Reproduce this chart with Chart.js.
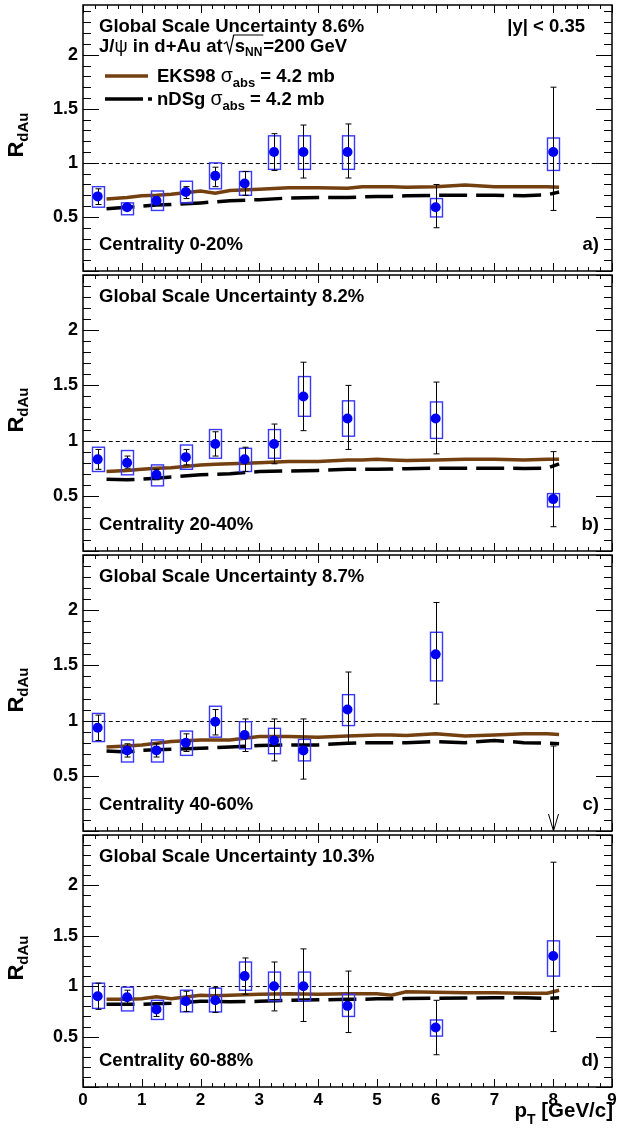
<!DOCTYPE html>
<html>
<head>
<meta charset="utf-8">
<script src="https://cdn.jsdelivr.net/npm/chart.js@4.4.1/dist/chart.umd.min.js"></script>
<style>
  html, body { margin: 0; padding: 0; background: #fff; }
  #wrap { position: relative; width: 617px; height: 1131px; overflow: hidden; }
  canvas { position: absolute; left: 0; }
</style>
</head>
<body>
<div id="wrap">
  <canvas id="pa" width="617" height="276" style="top:0px"></canvas>
  <canvas id="pb" width="617" height="286" style="top:270px"></canvas>
  <canvas id="pc" width="617" height="286" style="top:550px"></canvas>
  <canvas id="pd" width="617" height="301" style="top:830px"></canvas>
</div>
<script>
// pT bin centres of the J/psi points
const pT = [0.25, 0.75, 1.25, 1.75, 2.25, 2.75, 3.25, 3.75, 4.5, 6, 8];
// x grid of the model curves
const thX = [0.4, 0.75, 1.0, 1.25, 1.5, 2.0, 2.25, 2.5, 3.0, 3.5, 4.0, 4.5, 4.75, 5.0, 5.25, 5.5, 6.0, 6.5, 7.0, 7.5, 7.9, 8.1];

// Centrality 0-20%
const rA      = [0.69, 0.59, 0.65, 0.73, 0.88, 0.81, 1.10, 1.10, 1.10, 0.59, 1.10];
const statLoA = [0.615, 0.575, 0.62, 0.67, 0.78, 0.70, 0.93, 0.86, 0.86, 0.40, 0.56];
const statHiA = [0.76, 0.605, 0.68, 0.78, 0.96, 0.92, 1.27, 1.35, 1.36, 0.80, 1.70];
const sysLoA  = [0.59, 0.52, 0.56, 0.63, 0.76, 0.70, 0.94, 0.94, 0.94, 0.50, 0.93];
const sysHiA  = [0.78, 0.63, 0.74, 0.83, 1.00, 0.92, 1.25, 1.25, 1.25, 0.67, 1.23];
const eksA  = [0.665, 0.68, 0.695, 0.70, 0.71, 0.74, 0.72, 0.745, 0.755, 0.77, 0.77, 0.765, 0.78, 0.78, 0.78, 0.775, 0.78, 0.795, 0.78, 0.78, 0.78, 0.775];
const ndsgA = [0.575, 0.59, 0.60, 0.61, 0.615, 0.63, 0.64, 0.65, 0.66, 0.675, 0.68, 0.68, 0.685, 0.69, 0.69, 0.695, 0.70, 0.70, 0.70, 0.697, 0.705, 0.73];

// Centrality 20-40%
const rB      = [0.83, 0.80, 0.69, 0.85, 0.97, 0.83, 0.97, 1.40, 1.20, 1.20, 0.47];
const statLoB = [0.74, 0.75, 0.645, 0.78, 0.86, 0.72, 0.79, 1.09, 0.92, 0.88, 0.22];
const statHiB = [0.92, 0.86, 0.74, 0.92, 1.08, 0.94, 1.15, 1.71, 1.50, 1.53, 0.90];
const sysLoB  = [0.72, 0.69, 0.59, 0.74, 0.84, 0.72, 0.84, 1.22, 1.04, 1.02, 0.40];
const sysHiB  = [0.94, 0.91, 0.78, 0.96, 1.10, 0.93, 1.10, 1.58, 1.36, 1.35, 0.52];
const eksB  = [0.72, 0.73, 0.74, 0.75, 0.755, 0.78, 0.785, 0.79, 0.80, 0.81, 0.81, 0.825, 0.825, 0.83, 0.825, 0.82, 0.825, 0.83, 0.83, 0.825, 0.83, 0.83];
const ndsgB = [0.65, 0.645, 0.65, 0.66, 0.67, 0.69, 0.695, 0.70, 0.72, 0.725, 0.73, 0.74, 0.74, 0.74, 0.742, 0.745, 0.75, 0.75, 0.75, 0.748, 0.75, 0.79];

// Centrality 40-60%
const rC      = [0.935, 0.73, 0.73, 0.80, 0.99, 0.87, 0.82, 0.73, 1.10, 1.60, null];
const statLoC = [0.82, 0.67, 0.67, 0.72, 0.87, 0.72, 0.635, 0.47, 0.80, 1.15, null];
const statHiC = [1.05, 0.79, 0.79, 0.88, 1.10, 1.015, 1.015, 1.015, 1.44, 2.07, null];
const sysLoC  = [0.81, 0.625, 0.625, 0.685, 0.85, 0.745, 0.70, 0.635, 0.955, 1.36, null];
const sysHiC  = [1.065, 0.825, 0.825, 0.905, 1.13, 0.99, 0.93, 0.83, 1.235, 1.80, null];
const limitXC = [8];
const limitC  = [0.77];
const eksC  = [0.76, 0.77, 0.78, 0.795, 0.81, 0.825, 0.825, 0.825, 0.855, 0.855, 0.85, 0.86, 0.865, 0.87, 0.87, 0.865, 0.88, 0.86, 0.87, 0.88, 0.88, 0.875];
const ndsgC = [0.725, 0.715, 0.73, 0.735, 0.74, 0.75, 0.755, 0.76, 0.775, 0.78, 0.78, 0.795, 0.80, 0.80, 0.80, 0.80, 0.81, 0.80, 0.82, 0.80, 0.795, 0.79];

// Centrality 60-88%
const rD      = [0.90, 0.89, 0.77, 0.85, 0.86, 1.10, 1.00, 1.00, 0.805, 0.59, 1.30];
const statLoD = [0.77, 0.82, 0.70, 0.75, 0.74, 0.92, 0.755, 0.65, 0.54, 0.32, 0.55];
const statHiD = [1.03, 0.96, 0.805, 0.95, 0.99, 1.28, 1.24, 1.37, 1.15, 0.86, 2.23];
const sysLoD  = [0.78, 0.755, 0.67, 0.745, 0.745, 0.96, 0.855, 0.855, 0.70, 0.505, 1.10];
const sysHiD  = [1.03, 0.99, 0.86, 0.96, 0.98, 1.24, 1.14, 1.14, 0.92, 0.665, 1.45];
const eksD  = [0.87, 0.87, 0.875, 0.895, 0.875, 0.91, 0.905, 0.91, 0.92, 0.925, 0.92, 0.925, 0.925, 0.925, 0.91, 0.945, 0.94, 0.935, 0.935, 0.93, 0.93, 0.96];
const ndsgD = [0.82, 0.82, 0.82, 0.825, 0.83, 0.85, 0.85, 0.845, 0.85, 0.86, 0.865, 0.87, 0.87, 0.875, 0.875, 0.877, 0.88, 0.882, 0.885, 0.885, 0.88, 0.885];

const FONT = '"Liberation Sans", Arial, Helvetica, sans-serif';
const TXT = 18.5;
const brown = '#74400f';
const blue = '#0000f0';
const boxBlue = '#3838ff';

function drawParts(ctx, x, y, parts) {
  parts.forEach(p => {
    ctx.font = (p[3] || 'bold') + ' ' + p[1] + 'px ' + FONT;
    ctx.fillText(p[0], x, y + (p[2] || 0));
    x += ctx.measureText(p[0]).width;
  });
  return x;
}

function partsWidth(ctx, parts) {
  let w = 0;
  parts.forEach(p => {
    ctx.font = (p[3] || 'bold') + ' ' + p[1] + 'px ' + FONT;
    w += ctx.measureText(p[0]).width;
  });
  return w;
}

function makePlugin(panel) {
  return {
    id: 'panel' + panel.tag,
    beforeDatasetsDraw(chart) {
      const ctx = chart.ctx;
      const xs = chart.scales.x, ys = chart.scales.y;
      ctx.save();
      ctx.strokeStyle = '#000';
      ctx.lineWidth = 1;
      ctx.setLineDash([4, 3]);
      ctx.beginPath();
      ctx.moveTo(xs.getPixelForValue(0.2), Math.round(ys.getPixelForValue(1)) + 0.5);
      ctx.lineTo(xs.getPixelForValue(8.8), Math.round(ys.getPixelForValue(1)) + 0.5);
      ctx.stroke();
      ctx.restore();
    },
    beforeDatasetDraw(chart, args) {
      if (args.index !== 0) return;
      const ctx = chart.ctx;
      const xs = chart.scales.x, ys = chart.scales.y;
      ctx.save();
      pT.forEach((x, i) => {
        if (panel.r[i] === null) return;
        const px = xs.getPixelForValue(x);
        const half = xs.getPixelForValue(x + 0.1) - px;
        const y1 = ys.getPixelForValue(panel.sysHi[i]);
        const y2 = ys.getPixelForValue(panel.sysLo[i]);
        ctx.strokeStyle = boxBlue;
        ctx.lineWidth = 1.4;
        ctx.strokeRect(Math.round(px - half) + 0.5, y1, Math.round(2 * half), y2 - y1);
        const s1 = ys.getPixelForValue(panel.statHi[i]);
        const s2 = ys.getPixelForValue(panel.statLo[i]);
        ctx.strokeStyle = '#000';
        ctx.lineWidth = 1;
        ctx.beginPath();
        const cx = Math.round(px) + 0.5;
        ctx.moveTo(cx, s1); ctx.lineTo(cx, s2);
        ctx.moveTo(cx - 3, s1); ctx.lineTo(cx + 3, s1);
        ctx.moveTo(cx - 3, s2); ctx.lineTo(cx + 3, s2);
        ctx.stroke();
      });
      if (panel.limitX) {
        panel.limitX.forEach((x, i) => {
          const cx = Math.round(xs.getPixelForValue(x)) + 0.5;
          const yt = ys.getPixelForValue(panel.limit[i]);
          const yb = chart.chartArea.bottom;
          ctx.strokeStyle = '#000';
          ctx.lineWidth = 1;
          ctx.beginPath();
          ctx.moveTo(cx - 3, yt); ctx.lineTo(cx + 3, yt);
          ctx.moveTo(cx, yt); ctx.lineTo(cx, yb);
          ctx.moveTo(cx - 5, yb - 17); ctx.lineTo(cx, yb); ctx.lineTo(cx + 5, yb - 17);
          ctx.stroke();
        });
      }
      ctx.restore();
    },
    afterDraw(chart) {
      const ctx = chart.ctx;
      const xs = chart.scales.x, ys = chart.scales.y;
      const { left, right, top, bottom } = chart.chartArea;
      ctx.save();
      ctx.strokeStyle = '#000';
      ctx.lineWidth = 1.5;
      ctx.strokeRect(left, top, right - left, bottom - top);
      ctx.lineWidth = 1;
      ctx.beginPath();
      for (let k = 0; k <= 25; k++) {
        const v = k / 10;
        if (v > ys.max + 1e-6) break;
        const py = Math.round(ys.getPixelForValue(v)) + 0.5;
        const len = k % 5 === 0 ? 16 : 8;
        ctx.moveTo(left, py); ctx.lineTo(left + len, py);
        ctx.moveTo(right, py); ctx.lineTo(right - len, py);
      }
      for (let k = 0; k <= 45; k++) {
        const px = Math.round(xs.getPixelForValue(k / 5)) + 0.5;
        const len = k % 5 === 0 ? 8 : 4;
        ctx.moveTo(px, bottom); ctx.lineTo(px, bottom - len);
        ctx.moveTo(px, top); ctx.lineTo(px, top + len);
      }
      ctx.stroke();

      ctx.fillStyle = '#000';
      ctx.textBaseline = 'alphabetic';
      ctx.textAlign = 'left';
      drawParts(ctx, 99, top + 27, [['Global Scale Uncertainty ' + panel.scaleUnc, TXT]]);
      drawParts(ctx, 99, bottom - 21, [['Centrality ' + panel.centrality, TXT]]);
      const lw = partsWidth(ctx, [[panel.tag + ')', TXT]]);
      drawParts(ctx, 599 - lw, bottom - 21, [[panel.tag + ')', TXT]]);

      // y axis title
      const rParts = [['R', 22], ['dAu', 15, 5]];
      ctx.save();
      ctx.translate(23, (top + bottom) / 2 - 3);
      ctx.rotate(-Math.PI / 2);
      drawParts(ctx, -partsWidth(ctx, rParts) / 2, 0, rParts);
      ctx.restore();

      if (panel.tag === 'a') {
        const yw = partsWidth(ctx, [['|y| < 0.35', TXT]]);
        drawParts(ctx, 585 - yw, top + 27, [['|y| < 0.35', TXT]]);
        let x = drawParts(ctx, 99, top + 47, [['J/', TXT], ['\u03c8', TXT, 0, 'normal'], [' in d+Au at', TXT]]);
        const sx = x + 1;
        x = drawParts(ctx, sx + 11, top + 47, [['s', TXT], ['NN', 12, 4]]);
        ctx.lineWidth = 1.2;
        ctx.beginPath();
        ctx.moveTo(sx, top + 39);
        ctx.lineTo(sx + 3, top + 37);
        ctx.lineTo(sx + 6, top + 48);
        ctx.lineTo(sx + 10, top + 30);
        ctx.lineTo(x + 1, top + 30);
        ctx.stroke();
        drawParts(ctx, x + 1, top + 47, [['=200 GeV', TXT]]);

        // legend
        ctx.lineWidth = 3.5;
        ctx.strokeStyle = brown;
        ctx.beginPath();
        ctx.moveTo(105, top + 71); ctx.lineTo(148, top + 71);
        ctx.stroke();
        ctx.strokeStyle = '#000';
        ctx.beginPath();
        ctx.moveTo(105, top + 94); ctx.lineTo(143, top + 94);
        ctx.moveTo(148, top + 94); ctx.lineTo(152, top + 94);
        ctx.stroke();
        drawParts(ctx, 157, top + 77, [['EKS98 ', TXT], ['\u03c3', 19.5, 0, 'normal'], ['abs', 13, 5], [' = 4.2 mb', TXT]]);
        drawParts(ctx, 157, top + 100, [['nDSg ', TXT], ['\u03c3', 19.5, 0, 'normal'], ['abs', 13, 5], [' = 4.2 mb', TXT]]);
      }

      if (panel.tag === 'd') {
        const tParts = [['p', 20.5], ['T', 14, 7], [' [GeV/c]', 20.5]];
        drawParts(ctx, 613 - partsWidth(ctx, tParts), bottom + 30, tParts);
      }
      ctx.restore();
    }
  };
}

function makeChart(id, panel) {
  const last = panel.tag === 'd';
  return new Chart(document.getElementById(id), {
    type: 'scatter',
    data: {
      datasets: [
        {
          data: pT.map((x, i) => ({ x: x, y: panel.r[i] })).filter(p => p.y !== null),
          pointRadius: 5,
          pointBackgroundColor: blue,
          pointBorderColor: blue,
          pointBorderWidth: 0,
        },
        {
          type: 'line',
          data: thX.map((x, i) => ({ x: x, y: panel.eks[i] })),
          borderColor: brown,
          borderWidth: 3.5,
          pointRadius: 0,
          tension: 0,
          fill: false,
        },
        {
          type: 'line',
          data: thX.map((x, i) => ({ x: x, y: panel.ndsg[i] })),
          borderColor: '#000',
          borderWidth: 3.5,
          borderDash: [28, 9],
          pointRadius: 0,
          tension: 0,
          fill: false,
        },
      ],
    },
    options: {
      responsive: false,
      animation: false,
      events: [],
      layout: { padding: { top: 3, right: 4, bottom: last ? 0 : 3, left: 0 } },
      plugins: { legend: { display: false }, tooltip: { enabled: false } },
      scales: {
        x: {
          type: 'linear',
          min: 0,
          max: 9,
          display: last,
          grid: { display: false, drawTicks: false },
          border: { display: false },
          ticks: {
            stepSize: 1,
            padding: 3,
            color: '#000',
            maxRotation: 0,
            autoSkip: false,
            font: { family: FONT, size: 17, weight: 'bold' },
          },
          afterFit: s => {
            if (!last) return;
            s.height = 44; s.paddingLeft = 0; s.paddingRight = 0;
          },
        },
        y: {
          type: 'linear',
          min: 0,
          max: panel.ymax,
          grid: { display: false, drawTicks: false },
          border: { display: false },
          ticks: {
            stepSize: 0.5,
            padding: 5,
            color: '#000',
            font: { family: FONT, size: 18, weight: 'bold' },
            callback: v => (v > 0.01 && v < 2.45 ? String(v) : ''),
          },
          afterFit: s => { s.width = 83; s.paddingTop = 0; s.paddingBottom = 0; },
        },
      },
    },
    plugins: [makePlugin(panel)],
  });
}

makeChart('pa', { tag: 'a', ymax: 2.46, scaleUnc: '8.6%', centrality: '0-20%',
  r: rA, statLo: statLoA, statHi: statHiA, sysLo: sysLoA, sysHi: sysHiA, eks: eksA, ndsg: ndsgA });
makeChart('pb', { tag: 'b', ymax: 2.5, scaleUnc: '8.2%', centrality: '20-40%',
  r: rB, statLo: statLoB, statHi: statHiB, sysLo: sysLoB, sysHi: sysHiB, eks: eksB, ndsg: ndsgB });
makeChart('pc', { tag: 'c', ymax: 2.5, scaleUnc: '8.7%', centrality: '40-60%',
  r: rC, statLo: statLoC, statHi: statHiC, sysLo: sysLoC, sysHi: sysHiC, eks: eksC, ndsg: ndsgC,
  limitX: limitXC, limit: limitC });
makeChart('pd', { tag: 'd', ymax: 2.5, scaleUnc: '10.3%', centrality: '60-88%',
  r: rD, statLo: statLoD, statHi: statHiD, sysLo: sysLoD, sysHi: sysHiD, eks: eksD, ndsg: ndsgD });
</script>
</body>
</html>
